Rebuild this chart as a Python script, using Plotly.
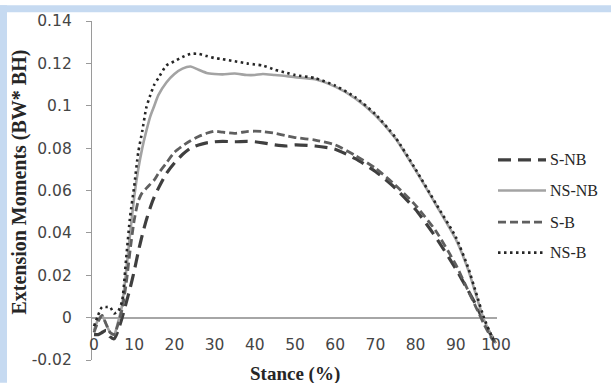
import plotly.graph_objects as go

stance = [0, 1, 2, 3, 4, 5, 6, 7, 8, 9, 10, 11, 12, 13, 14, 15, 16, 18, 20, 22, 24, 26, 28, 30,
          32, 35, 38, 40, 42, 45, 48, 50, 55, 60, 65, 70, 75, 80, 85, 90, 93, 95, 97, 99, 100]

s_nb = [-0.008, -0.008, -0.007, -0.006, -0.009, -0.010, -0.006, 0.000, 0.007, 0.014, 0.022, 0.031,
        0.039, 0.046, 0.052, 0.057, 0.061, 0.068, 0.073, 0.077, 0.080, 0.0815, 0.0825, 0.083,
        0.0832, 0.083, 0.0832, 0.083, 0.0825, 0.0815, 0.081, 0.0815, 0.081, 0.0795, 0.075, 0.069,
        0.061, 0.051, 0.038, 0.023, 0.013, 0.006, -0.002, -0.009, -0.011]

ns_nb = [-0.006, -0.001, 0.001, -0.003, -0.007, -0.008, -0.002, 0.006, 0.022, 0.040, 0.057, 0.070,
         0.080, 0.088, 0.095, 0.100, 0.105, 0.111, 0.115, 0.1175, 0.1185, 0.117, 0.1155, 0.115,
         0.1148, 0.1152, 0.1145, 0.1145, 0.115, 0.1145, 0.114, 0.1135, 0.1125, 0.109, 0.1035,
         0.0955, 0.0845, 0.0695, 0.0535, 0.037, 0.023, 0.011, -0.001, -0.009, -0.012]

s_b = [-0.007, -0.002, 0.001, -0.003, -0.007, -0.008, -0.003, 0.004, 0.016, 0.032, 0.046, 0.055,
       0.059, 0.061, 0.063, 0.065, 0.068, 0.073, 0.078, 0.081, 0.0835, 0.0855, 0.087, 0.088,
       0.0875, 0.087, 0.0878, 0.088, 0.0878, 0.087, 0.0858, 0.085, 0.0838, 0.0815, 0.0765, 0.0705,
       0.0625, 0.053, 0.041, 0.025, 0.013, 0.005, -0.003, -0.010, -0.012]

ns_b = [-0.004, 0.001, 0.005, 0.005, 0.005, 0.002, 0.003, 0.008, 0.028, 0.048, 0.062, 0.078,
        0.088, 0.099, 0.105, 0.110, 0.113, 0.119, 0.121, 0.123, 0.1245, 0.1245, 0.1235, 0.1225,
        0.122, 0.121, 0.120, 0.1195, 0.119, 0.117, 0.1155, 0.1145, 0.113, 0.1095, 0.104, 0.096,
        0.085, 0.070, 0.054, 0.038, 0.024, 0.012, 0.000, -0.009, -0.012]

series_names = ["S-NB", "NS-NB", "S-B", "NS-B"]
series_values = [s_nb, ns_nb, s_b, ns_b]
y_tick_vals = [-0.02, 0, 0.02, 0.04, 0.06, 0.08, 0.1, 0.12, 0.14]
y_tick_text = ["-0.02", "0", "0.02", "0.04", "0.06", "0.08", "0.1", "0.12", "0.14"]
x_tick_vals = [0, 10, 20, 30, 40, 50, 60, 70, 80, 90, 100]

styles = [
    dict(color="#3f3f3f", width=3.2, dash="13px,7px"),
    dict(color="#a3a3a3", width=2.6, dash="solid"),
    dict(color="#5f5f5f", width=2.8, dash="8px,4px"),
    dict(color="#262626", width=2.6, dash="2.5px,3.5px"),
]

W, H = 611, 383
PL, PR, PT, PB = 92, 497, 16, 360  # plot area in pixels


def px_x(p):
    return (p - PL) / (PR - PL)


def px_y(p):
    return (PB - p) / (PB - PT)


fig = go.Figure()
for name, vals, st in zip(series_names, series_values, styles):
    fig.add_trace(go.Scatter(x=stance, y=vals, mode="lines", name=name,
                             line=dict(color=st["color"], width=st["width"], dash=st["dash"],
                                       shape="spline", smoothing=0.6),
                             showlegend=False))

tick_font = dict(family="DejaVu Sans, Verdana, sans-serif", size=15.5, color="#454545")
serif_bold = dict(family="Liberation Serif, Times New Roman, serif", size=19, color="#262626")

fig.update_layout(
    width=W, height=H, autosize=False,
    margin=dict(l=PL, r=W - PR, t=PT, b=H - PB, pad=0),
    paper_bgcolor="white", plot_bgcolor="white",
    xaxis=dict(range=[-0.5, 100.25], tickvals=x_tick_vals, showgrid=False, zeroline=False,
               showline=False, ticks="", tickfont=tick_font, anchor="free", position=px_y(333)),
    yaxis=dict(range=[-0.02, 0.14], tickvals=y_tick_vals, ticktext=y_tick_text, showgrid=False,
               zeroline=True, zerolinecolor="#a6a6a6", zerolinewidth=1.5,
               showline=True, linecolor="#9a9a9a", linewidth=1.3,
               ticks="outside", ticklen=5, tickcolor="#9a9a9a", tickwidth=1.3,
               tickfont=tick_font, ticklabelstandoff=11),
    showlegend=False,
)

shapes = [
    dict(type="rect", xref="paper", yref="paper", x0=px_x(0), x1=px_x(7), y0=px_y(H), y1=px_y(0),
         fillcolor="#c6daf1", line=dict(width=0), layer="above"),
    dict(type="rect", xref="paper", yref="paper", x0=px_x(0), x1=px_x(W), y0=px_y(7), y1=px_y(0),
         fillcolor="#c6daf1", line=dict(width=0), layer="above"),
]
annotations = [
    dict(text="<b>Stance (%)</b>", xref="paper", yref="paper", x=px_x(295), y=px_y(374),
         showarrow=False, font=serif_bold, xanchor="center", yanchor="middle"),
    dict(text="<b>Extension Moments (BW* BH)</b>", xref="paper", yref="paper", x=px_x(20),
         y=px_y(180), showarrow=False, font=dict(serif_bold, size=20), textangle=-90,
         xanchor="center", yanchor="middle"),
]

legend_y = [157, 188, 220, 251]
legend_font = dict(family="Liberation Serif, Times New Roman, serif", size=16, color="#262626")
for name, st, ly in zip(series_names, styles, legend_y):
    shapes.append(dict(type="line", xref="paper", yref="paper", x0=px_x(498), x1=px_x(546),
                       y0=px_y(ly), y1=px_y(ly),
                       line=dict(color=st["color"], width=st["width"], dash=st["dash"])))
    annotations.append(dict(text=name, xref="paper", yref="paper", x=px_x(548), y=px_y(ly),
                            showarrow=False, font=legend_font, xanchor="left", yanchor="middle"))

fig.update_layout(shapes=shapes, annotations=annotations)
fig.write_html("out.html")
